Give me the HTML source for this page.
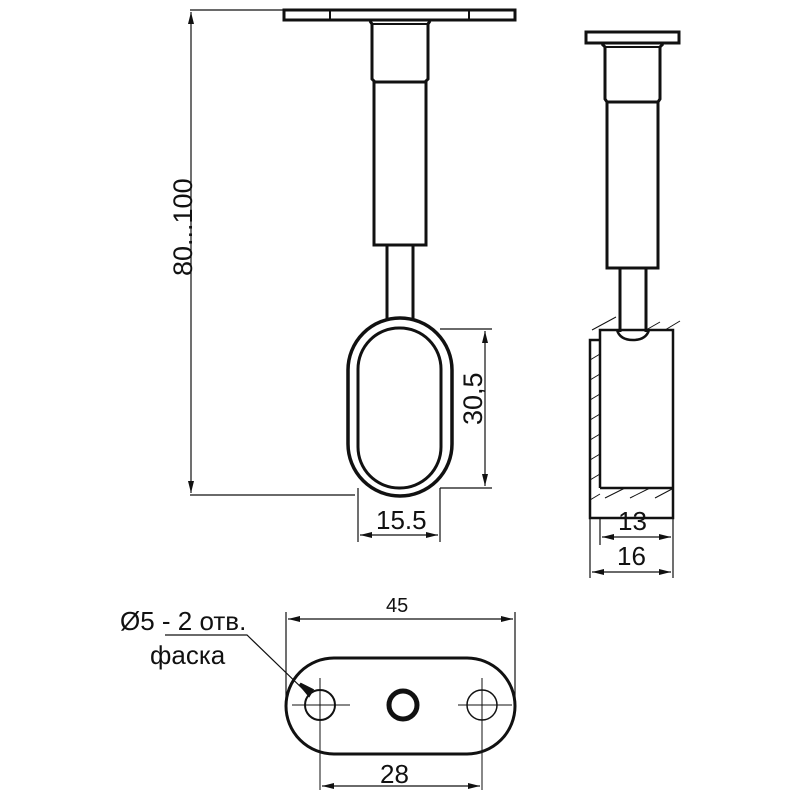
<!DOCTYPE html>
<html><head><meta charset="utf-8"><style>html,body{margin:0;padding:0;background:#fff}svg{display:block}text{font-family:"Liberation Sans","DejaVu Sans",sans-serif;fill:#111}</style></head><body>
<svg width="800" height="800" viewBox="0 0 800 800" xmlns="http://www.w3.org/2000/svg">
<defs>
<marker id="a" viewBox="0 0 12 6" refX="12" refY="3" markerWidth="12" markerHeight="6" orient="auto-start-reverse" markerUnits="userSpaceOnUse"><path d="M0,0 L12,3 L0,6 z" fill="#111"/></marker>
</defs>
<g fill="none" stroke="#111">
<rect x="284" y="10" width="231" height="10" stroke-width="3"/>
<line x1="330" y1="10" x2="330" y2="20" stroke-width="2"/>
<line x1="469" y1="10" x2="469" y2="20" stroke-width="2"/>
<path d="M370,21 L372,24 L372,79 L375,82 L425,82 L428,79 L428,24 L430,21" stroke-width="3"/>
<line x1="372" y1="24" x2="428" y2="24" stroke-width="2"/>
<rect x="374" y="82" width="52" height="163" stroke-width="3"/>
<line x1="387" y1="245" x2="387" y2="320" stroke-width="3"/>
<line x1="413" y1="245" x2="413" y2="320" stroke-width="3"/>
<rect x="348" y="318" width="104" height="178" rx="52" ry="52" stroke-width="3.5"/>
<rect x="358" y="328" width="83" height="160" rx="41" ry="41" stroke-width="3"/>
<line x1="190" y1="10" x2="284" y2="10" stroke-width="1.2"/>
<line x1="190" y1="495" x2="355" y2="495" stroke-width="1.2"/>
<line x1="191" y1="12" x2="191" y2="493" stroke-width="1.2" marker-start="url(#a)" marker-end="url(#a)"/>
<line x1="440" y1="329" x2="492" y2="329" stroke-width="1.2"/>
<line x1="440" y1="488" x2="492" y2="488" stroke-width="1.2"/>
<line x1="485" y1="331" x2="485" y2="486" stroke-width="1.2" marker-start="url(#a)" marker-end="url(#a)"/>
<line x1="358" y1="488" x2="358" y2="542" stroke-width="1.2"/>
<line x1="440" y1="488" x2="440" y2="542" stroke-width="1.2"/>
<line x1="360" y1="535" x2="438" y2="535" stroke-width="1.2" marker-start="url(#a)" marker-end="url(#a)"/>
<rect x="586" y="32" width="93" height="11" stroke-width="3"/>
<path d="M602,44 L605,47 L605,99 L607,102 L658,102 L660,99 L660,47 L663,44" stroke-width="3"/>
<line x1="605" y1="47" x2="660" y2="47" stroke-width="2"/>
<rect x="607" y="102" width="51" height="166" stroke-width="3"/>
<line x1="620" y1="268" x2="620" y2="332" stroke-width="3"/>
<line x1="646" y1="268" x2="646" y2="332" stroke-width="3"/>
<path d="M617,330 Q620,340 633,340 Q646,340 649,330" stroke-width="2.5"/>
<path d="M600,488 L600,330 L673,330 L673,518 L590,518 L590,340 L600,340" stroke-width="2.5"/>
<line x1="600" y1="488" x2="673" y2="488" stroke-width="2.5"/>
<g stroke-width="1">
<line x1="592" y1="330" x2="616" y2="317"/><line x1="646" y1="330" x2="660" y2="322"/><line x1="665" y1="330" x2="680" y2="321"/>
<line x1="590" y1="360" x2="600" y2="354"/><line x1="590" y1="380" x2="600" y2="374"/><line x1="590" y1="400" x2="600" y2="394"/><line x1="590" y1="420" x2="600" y2="414"/><line x1="590" y1="440" x2="600" y2="434"/><line x1="590" y1="460" x2="600" y2="454"/><line x1="590" y1="480" x2="600" y2="474"/><line x1="590" y1="500" x2="600" y2="494"/>
<line x1="605" y1="498" x2="625" y2="488"/><line x1="630" y1="498" x2="650" y2="488"/><line x1="655" y1="498" x2="672" y2="489"/>
</g>
<line x1="600" y1="518" x2="600" y2="545" stroke-width="1.2"/>
<line x1="590" y1="518" x2="590" y2="578" stroke-width="1.2"/>
<line x1="673" y1="518" x2="673" y2="578" stroke-width="1.2"/>
<line x1="602" y1="537" x2="671" y2="537" stroke-width="1.2" marker-start="url(#a)" marker-end="url(#a)"/>
<line x1="592" y1="572" x2="671" y2="572" stroke-width="1.2" marker-start="url(#a)" marker-end="url(#a)"/>
<rect x="286" y="658" width="229" height="96" rx="48" ry="48" stroke-width="3"/>
<circle cx="320" cy="705" r="15" stroke-width="2"/>
<circle cx="482" cy="705" r="15" stroke-width="1.5"/>
<circle cx="403" cy="705" r="14" stroke-width="5"/>
<g stroke-width="1">
<line x1="292" y1="705" x2="350" y2="705"/><line x1="320" y1="678" x2="320" y2="790"/>
<line x1="458" y1="705" x2="512" y2="705"/><line x1="482" y1="678" x2="482" y2="790"/>
</g>
<line x1="286" y1="612" x2="286" y2="705" stroke-width="1.2"/>
<line x1="515" y1="612" x2="515" y2="705" stroke-width="1.2"/>
<line x1="288" y1="619" x2="513" y2="619" stroke-width="1.2" marker-start="url(#a)" marker-end="url(#a)"/>
<line x1="322" y1="786" x2="480" y2="786" stroke-width="1.2" marker-start="url(#a)" marker-end="url(#a)"/>
<polyline points="165,635 247,635 306,692" stroke-width="1.2"/>
<path d="M300,684 L309,695 L312,690 Z" fill="#111" stroke-width="3"/>
</g>
<text x="0" y="0" font-size="27" transform="translate(192,276) rotate(-90)">80...100</text>
<text x="0" y="0" font-size="27" transform="translate(482,425) rotate(-90)">30,5</text>
<text x="376" y="529" font-size="26">15.5</text>
<text x="618" y="530" font-size="26">13</text>
<text x="617" y="565" font-size="26">16</text>
<text x="386" y="612" font-size="20">45</text>
<text x="380" y="783" font-size="26">28</text>
<text x="120" y="630" font-size="26">Ø5 - 2 отв.</text>
<text x="150" y="664" font-size="26">фаска</text>
</svg>
</body></html>
